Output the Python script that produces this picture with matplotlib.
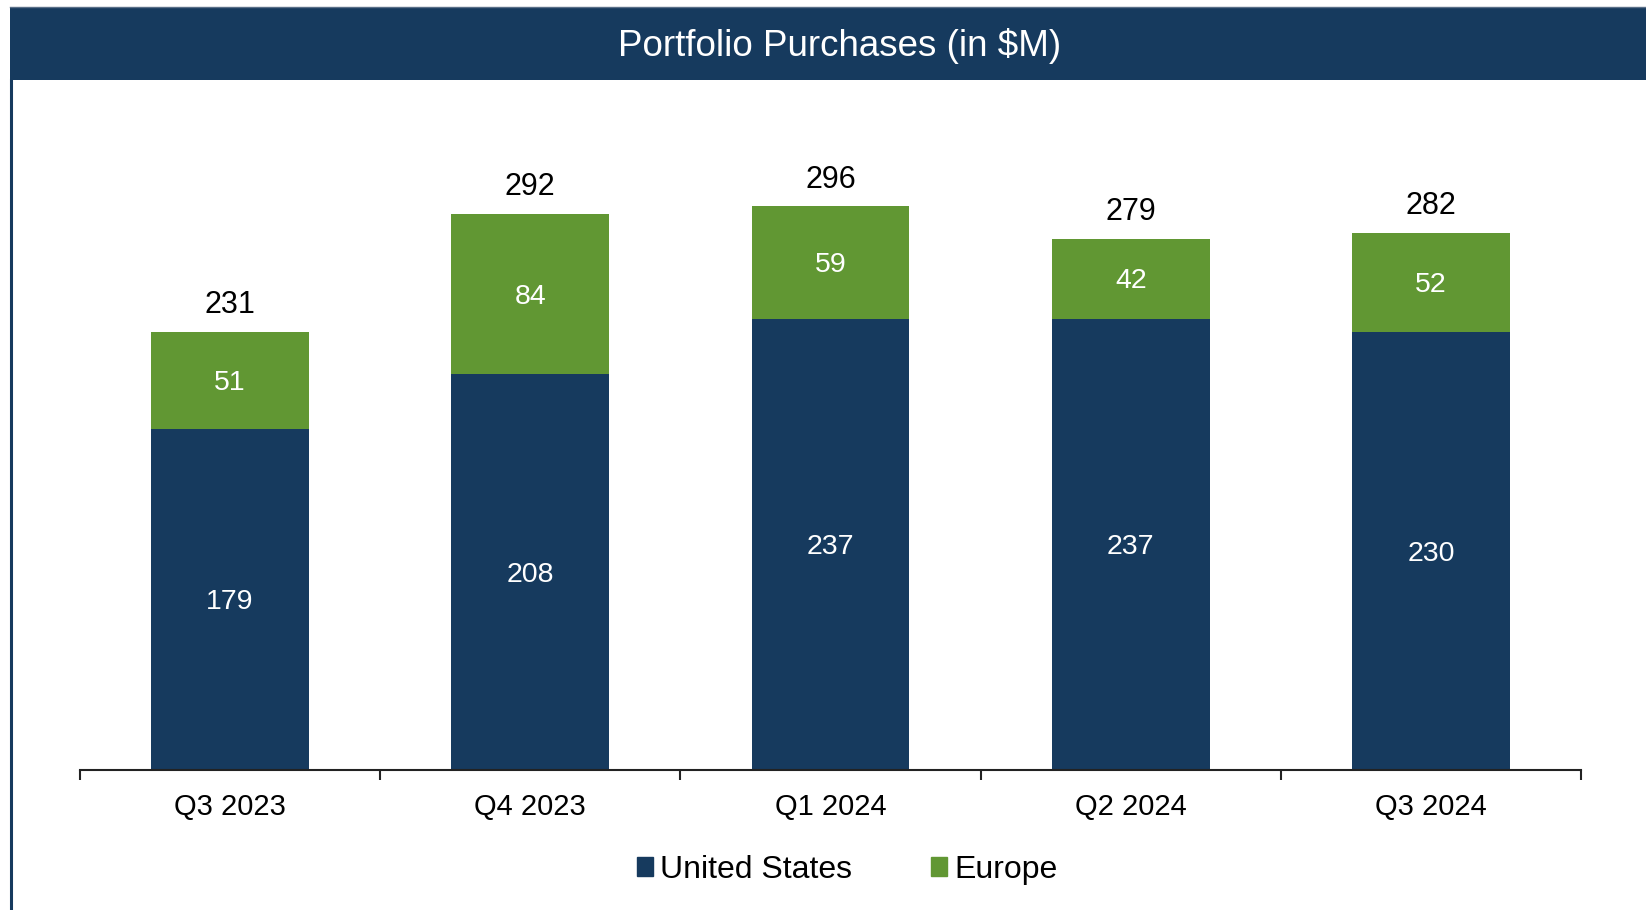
import matplotlib
matplotlib.use("Agg")
import matplotlib.pyplot as plt
from matplotlib.patches import Rectangle
from matplotlib.lines import Line2D
import numpy as np

categories = ["Q3 2023", "Q4 2023", "Q1 2024", "Q2 2024", "Q3 2024"]
us_values = [179, 208, 237, 237, 230]
europe_values = [51, 84, 59, 42, 52]
totals = [231, 292, 296, 279, 282]

navy = "#163A5E"
green = "#619733"

plt.rcParams['font.family'] = ['Liberation Sans', 'DejaVu Sans']

W, H = 1646, 910
fig = plt.figure(figsize=(W / 100, H / 100), dpi=100)
fig.patch.set_facecolor("white")

# title bar
fig.patches.append(Rectangle((10 / W, 1 - 80 / H), 1 - 10 / W, 73 / H,
                             transform=fig.transFigure, facecolor=navy,
                             edgecolor="none", zorder=0))
fig.lines.append(Line2D([10 / W, 1], [1 - 7 / H, 1 - 7 / H], transform=fig.transFigure,
                        color="#5a6f88", lw=1))
fig.lines.append(Line2D([11 / W, 11 / W], [0, 1 - 80 / H], transform=fig.transFigure,
                        color=navy, lw=2.2))
fig.text(840 / W, 1 - 46 / H, "Portfolio Purchases (in $M)", color="white",
         fontsize=26.5, ha="center", va="center")

ax_left, ax_right = 80 / W, 1581 / W
ax_bottom = (H - 770) / H
ax_top = (H - 80) / H
ax = fig.add_axes([ax_left, ax_bottom, ax_right - ax_left, ax_top - ax_bottom])
ax.set_facecolor("none")

x = np.arange(len(categories))
bw = 0.525
ax.bar(x, us_values, width=bw, color=navy, zorder=2)
ax.bar(x, europe_values, width=bw, bottom=us_values, color=green, zorder=2)

for i in range(len(categories)):
    ax.text(x[i], us_values[i] / 2 - 1.5, str(us_values[i]), color="white",
            ha="center", va="center", fontsize=20.5)
    ax.text(x[i], us_values[i] + europe_values[i] / 2 - 1.5, str(europe_values[i]),
            color="white", ha="center", va="center", fontsize=20.5)
    ax.text(x[i], us_values[i] + europe_values[i] + 6, str(totals[i]), color="black",
            ha="center", va="bottom", fontsize=22)

ax.set_xlim(-0.5, len(categories) - 0.5)
ax.set_ylim(0, 690 / 1.905)

for s in ["top", "right", "left"]:
    ax.spines[s].set_visible(False)
ax.spines["bottom"].set_linewidth(1.5)
ax.spines["bottom"].set_color("#222222")
ax.set_yticks([])

ax.set_xticks(np.arange(-0.5, len(categories), 1.0))
ax.set_xticklabels([])
ax.tick_params(axis="x", which="major", direction="out", length=7, width=1.5, color="#222222")
ax.set_xticks(x, minor=True)
ax.set_xticklabels(categories, minor=True, fontsize=21)
ax.tick_params(axis="x", which="minor", length=0, pad=16.5)

handles = [Rectangle((0, 0), 1, 1, color=navy), Rectangle((0, 0), 1, 1, color=green)]
fig.legend(handles, ["United States", "Europe"], loc="center",
           bbox_to_anchor=(847 / W, 1 - 870 / H), ncol=2, frameon=False,
           fontsize=23, handlelength=0.52, handleheight=0.52, handletextpad=0.22,
           columnspacing=2.45)

fig.savefig("out.png", dpi=100, facecolor="white")
